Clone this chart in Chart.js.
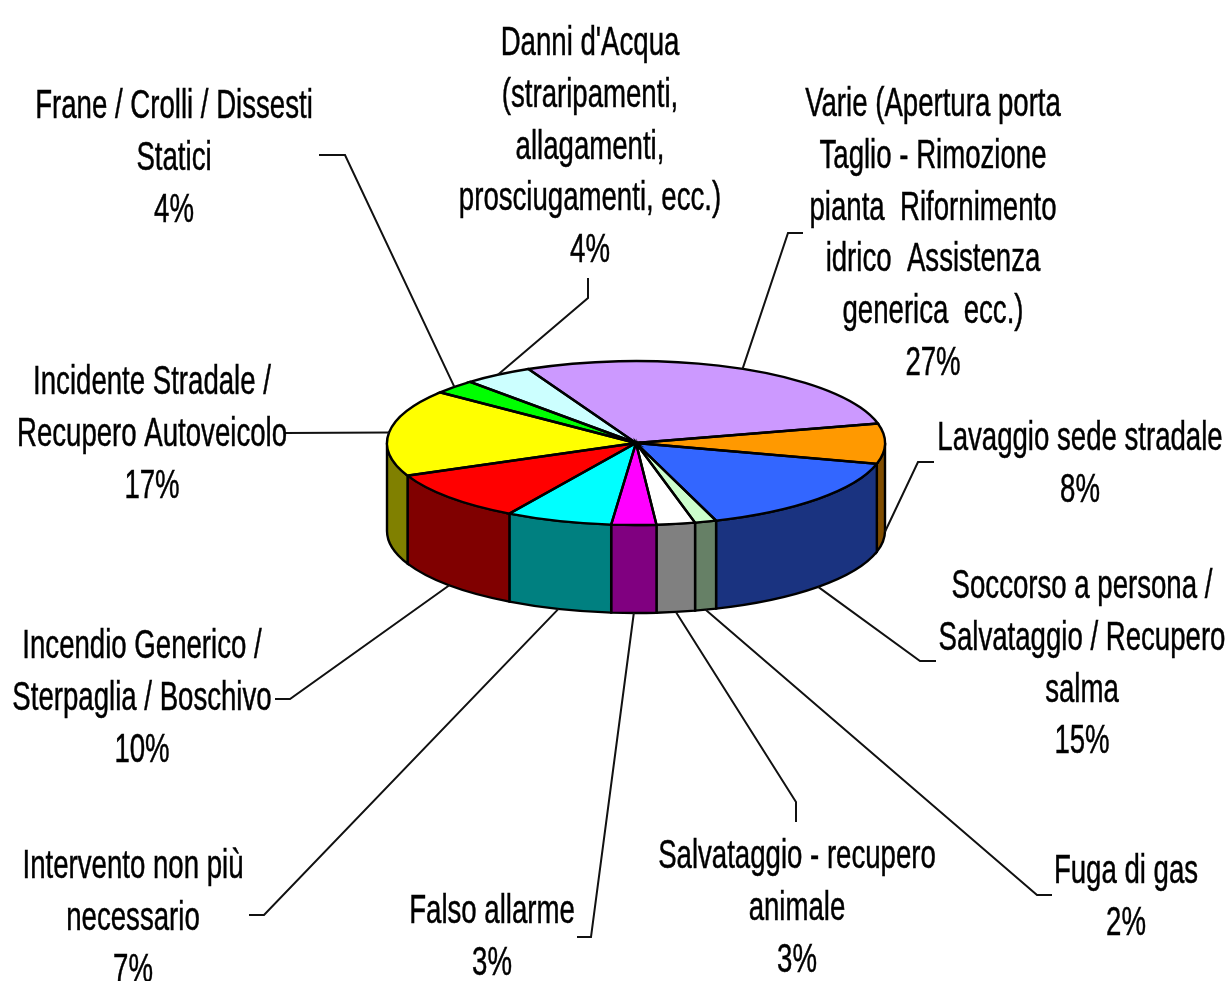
<!DOCTYPE html>
<html>
<head>
<meta charset="utf-8">
<title>Interventi</title>
<script src="https://cdn.jsdelivr.net/npm/chart.js@4"></script>
<style>
  html, body { margin: 0; padding: 0; background: #fff; }
  canvas { display: block; }
</style>
</head>
<body>
<canvas id="pieChart" width="1228" height="981"></canvas>
<script>
const categories = [
  ["Varie (Apertura porta", "Taglio - Rimozione", "pianta  Rifornimento", "idrico  Assistenza", "generica  ecc.)"],
  ["Lavaggio sede stradale"],
  ["Soccorso a persona /", "Salvataggio / Recupero", "salma"],
  ["Fuga di gas"],
  ["Salvataggio - recupero", "animale"],
  ["Falso allarme"],
  ["Intervento non più", "necessario"],
  ["Incendio Generico /", "Sterpaglia / Boschivo"],
  ["Incidente Stradale /", "Recupero Autoveicolo"],
  ["Frane / Crolli / Dissesti", "Statici"],
  ["Danni d'Acqua", "(straripamenti,", "allagamenti,", "prosciugamenti, ecc.)"],
];
// slice sizes as they look in the picture, the printed percents are rounded
const sliceValues = [28.3, 7.9, 15.7, 1.4, 2.5, 2.9, 6.9, 10.0, 17.1, 2.8, 4.5];
const percentLabels = ["27%", "8%", "15%", "2%", "3%", "3%", "7%", "10%", "17%", "4%", "4%"];
const topColors = ["#cc99ff", "#ff9900", "#3366ff", "#ccffcc", "#ffffff", "#ff00ff", "#00ffff", "#ff0000", "#ffff00", "#00ff00", "#ccffff"];
const sideColors = ["#664d80", "#804d00", "#1a3380", "#668066", "#808080", "#800080", "#008080", "#800000", "#808000", "#008000", "#668080"];

// label block: centre x, centre y of first line
const labelAnchors = [
  [933, 105], [1080, 439], [1082, 587], [1126, 872], [797, 857], [492, 912],
  [133, 867], [142, 647], [152, 383], [174, 107], [590, 44],
];
// leader line bends, the start comes from the slice itself
const leaderBends = [
  [[788, 233], [803, 233]],
  [[918, 462], [934, 462]],
  [[920, 661], [936, 661]],
  [[1037, 895], [1052, 895]],
  [[796, 802], [796, 822]],
  [[591, 937], [577, 937]],
  [[264, 915], [249, 915]],
  [[290, 699], [275, 699]],
  [[285, 433]],
  [[345, 155], [319, 155]],
  [[588, 298], [588, 278]],
];

const squash = 82 / 249;
const depth = 88;
const lineHeight = 51.8;

function applySquash(ctx, arc) {
  ctx.translate(arc.x, arc.y);
  ctx.scale(1, squash);
  ctx.translate(-arc.x, -arc.y);
}

function slicePath(ctx, arc) {
  ctx.beginPath();
  ctx.moveTo(arc.x, arc.y);
  ctx.arc(arc.x, arc.y, arc.outerRadius, arc.startAngle, arc.endAngle);
  ctx.closePath();
}

// part of a slice facing the viewer, angles in canvas radians
function frontRange(arc) {
  for (const turn of [-2 * Math.PI, 0, 2 * Math.PI]) {
    const from = Math.max(arc.startAngle + turn, 0);
    const to = Math.min(arc.endAngle + turn, Math.PI);
    if (to > from) return [from, to];
  }
  return null;
}

function drawWall(ctx, arc, color) {
  const range = frontRange(arc);
  if (!range) return;
  const ry = arc.outerRadius * squash;
  ctx.beginPath();
  ctx.ellipse(arc.x, arc.y, arc.outerRadius, ry, 0, range[0], range[1]);
  ctx.ellipse(arc.x, arc.y + depth, arc.outerRadius, ry, 0, range[1], range[0], true);
  ctx.closePath();
  ctx.fillStyle = color;
  ctx.fill();
  ctx.lineWidth = 2.4;
  ctx.strokeStyle = "#000";
  ctx.stroke();
}

const tiltPlugin = {
  id: "tilt",
  beforeDatasetsDraw(chart) {
    const ctx = chart.ctx;
    const arcs = chart.getDatasetMeta(0).data;
    arcs.forEach((arc, i) => drawWall(ctx, arc, sideColors[i]));
    ctx.save();
    applySquash(ctx, arcs[0]);
  },
  afterDatasetsDraw(chart) {
    const ctx = chart.ctx;
    ctx.restore();
    chart.getDatasetMeta(0).data.forEach((arc) => {
      ctx.save();
      applySquash(ctx, arc);
      slicePath(ctx, arc);
      ctx.restore();
      ctx.lineWidth = 2.4;
      ctx.strokeStyle = "#000";
      ctx.stroke();
    });
  },
};

const labelPlugin = {
  id: "sliceLabels",
  afterDraw(chart) {
    const ctx = chart.ctx;
    chart.getDatasetMeta(0).data.forEach((arc, i) => {
      const mid = (arc.startAngle + arc.endAngle) / 2;
      const startX = arc.x + Math.cos(mid) * arc.outerRadius;
      let startY = arc.y + Math.sin(mid) * arc.outerRadius * squash;
      if (Math.sin(mid) > 0) startY += depth;

      ctx.beginPath();
      ctx.moveTo(startX, startY);
      leaderBends[i].forEach((p) => ctx.lineTo(p[0], p[1]));
      ctx.lineWidth = 2;
      ctx.strokeStyle = "#111";
      ctx.stroke();

      const lines = categories[i].concat(percentLabels[i]);
      lines.forEach((line, n) => {
        ctx.save();
        ctx.translate(labelAnchors[i][0], labelAnchors[i][1] + n * lineHeight);
        ctx.scale(0.69, 1);
        ctx.font = "40px 'Liberation Sans'";
        ctx.textAlign = "center";
        ctx.textBaseline = "middle";
        ctx.fillStyle = "#000";
        ctx.strokeStyle = "#000";
        ctx.lineWidth = 0.5;
        ctx.filter = "blur(0.5px)";
        ctx.fillText(line, 0, 0);
        ctx.strokeText(line, 0, 0);
        ctx.restore();
      });
    });
  },
};

new Chart(document.getElementById("pieChart"), {
  type: "pie",
  data: {
    labels: categories.map((c) => c.join(" ")),
    datasets: [
      {
        data: sliceValues,
        backgroundColor: topColors,
        borderWidth: 0,
        hoverOffset: 0,
      },
    ],
  },
  options: {
    responsive: false,
    animation: false,
    rotation: -25.6,
    layout: { padding: { left: 387, right: 343, top: 194, bottom: 289 } },
    plugins: { legend: { display: false }, tooltip: { enabled: false } },
  },
  plugins: [tiltPlugin, labelPlugin],
});
</script>
</body>
</html>
